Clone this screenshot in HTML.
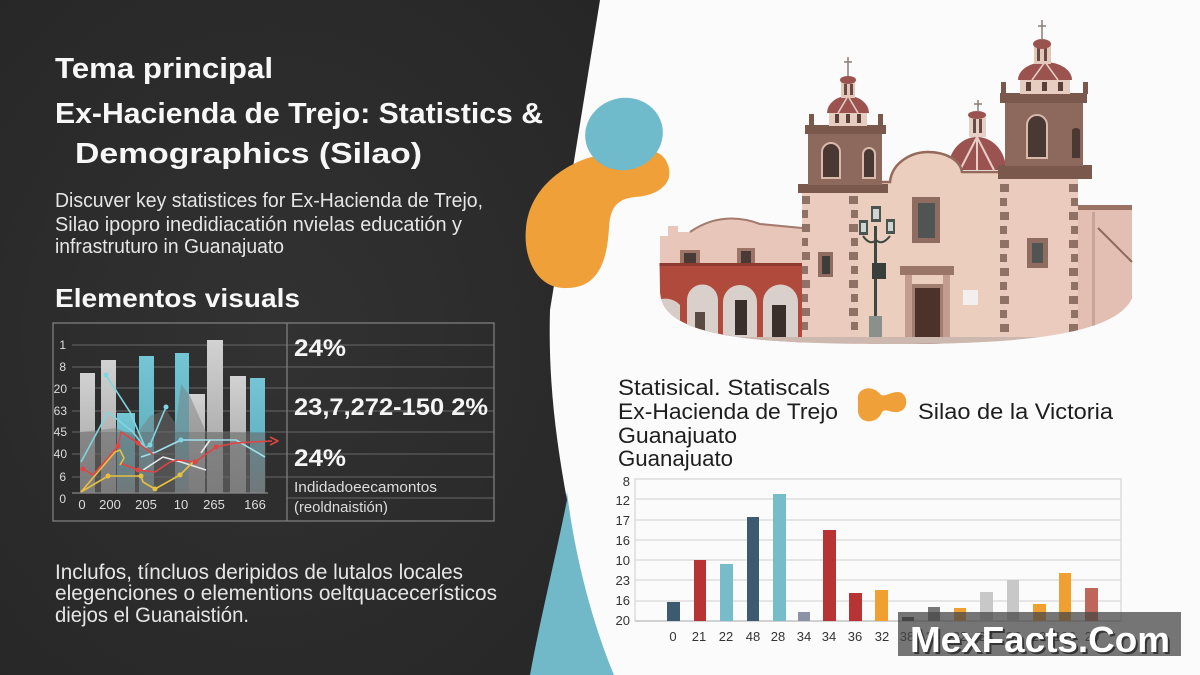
<!DOCTYPE html>
<html><head><meta charset="utf-8"><style>
html,body{margin:0;padding:0;width:1200px;height:675px;overflow:hidden;background:#fbfbfb;}
svg{display:block}
text{font-family:"Liberation Sans",Arial,sans-serif;}
</style></head><body>
<svg width="1200" height="675" viewBox="0 0 1200 675" xmlns="http://www.w3.org/2000/svg">
<defs>
 <radialGradient id="dk" cx="0.45" cy="0.5" r="0.75">
   <stop offset="0" stop-color="#323232"/><stop offset="1" stop-color="#262626"/>
 </radialGradient>
 <linearGradient id="gb" x1="0" y1="0" x2="0" y2="1"><stop offset="0" stop-color="#d2d2d2"/><stop offset="1" stop-color="#9c9c9c"/></linearGradient>
 <linearGradient id="tb" x1="0" y1="0" x2="0" y2="1"><stop offset="0" stop-color="#74c6d5"/><stop offset="0.6" stop-color="#62b2c0"/><stop offset="1" stop-color="#7f9094"/></linearGradient>
 <clipPath id="ch"><path d="M655,0 H1135 V285 C1135,332 1040,344 895,344 C745,344 660,336 660,290 Z"/></clipPath>
</defs>
<rect width="1200" height="675" fill="#fbfbfb"/>

<!-- teal bottom shape -->
<path d="M567,492 C575,560 595,630 614,675 L528,675 C540,620 555,560 567,492 Z" fill="#71b9c9"/>
<!-- dark panel -->
<path d="M0,0 H600 L550,310 C548,380 556,440 567,500 C555,560 540,620 530,675 H0 Z" fill="url(#dk)"/>

<!-- blobs -->
<path d="M588,158 C620,150 660,140 668,165 C675,185 655,196 635,197 C615,199 610,210 609,228 C607,262 598,287 568,288 C535,290 523,255 526,228 C529,192 558,168 588,158 Z" fill="#f0a038"/>
<ellipse cx="624" cy="134" rx="39" ry="36" fill="#6fbacb" transform="rotate(-15 624 134)"/>

<!-- church -->
<g clip-path="url(#ch)">
 <rect x="1077" y="207" width="55" height="140" fill="#e2bfb2"/>
 <rect x="1077" y="205" width="55" height="5" fill="#9a7264"/>
 <path d="M1098,228 L1132,262" stroke="#8e6a5e" stroke-width="2"/>
 <rect x="1092" y="212" width="3" height="120" fill="#c9a496"/>
 <!-- left building -->
 <path d="M660,236 L668,236 L668,226 L678,226 L678,232 L690,232 Q722,210 760,224 L802,228 V265 H660 Z" fill="#e8c6b9"/>
 <path d="M690,232 Q722,210 760,224 L802,228" fill="none" stroke="#a47a6c" stroke-width="2"/>
 <rect x="680" y="250" width="20" height="14" fill="#9c7568"/><rect x="684" y="253" width="12" height="11" fill="#4a3a35"/>
 <rect x="737" y="248" width="18" height="15" fill="#9c7568"/><rect x="741" y="251" width="10" height="12" fill="#4a3a35"/>
 <rect x="658" y="263" width="144" height="85" fill="#b04a3c"/>
 <rect x="658" y="263" width="144" height="3" fill="#8e3a30"/>
 <path d="M658,345 V300 A20,20 0 0 1 680,305 V345 Z" fill="#d6cdc8"/>
 <path d="M687,345 V300 A15.5,15.5 0 0 1 718,300 V345 Z" fill="#d9d0cb"/>
 <path d="M723,345 V302 A17,17 0 0 1 757,302 V345 Z" fill="#d9d0cb"/>
 <path d="M763,345 V302 A17.5,17.5 0 0 1 798,302 V345 Z" fill="#d9d0cb"/>
 <rect x="695" y="312" width="10" height="26" fill="#5a4a44"/>
 <rect x="735" y="300" width="12" height="35" fill="#3b2f2c"/>
 <rect x="772" y="305" width="14" height="33" fill="#3b2f2c"/>
 <!-- right dome -->
 <path d="M948,170 A29,33 0 0 1 1006,170 Z" fill="#9a5350"/>
 <path d="M977,137 L960,170 M977,137 L977,170 M977,137 L994,170" stroke="#e8cfc5" stroke-width="2"/>
 <rect x="969" y="115" width="17" height="22" fill="#e6cfc4"/>
 <rect x="973" y="119" width="3" height="14" fill="#6a4a44"/><rect x="979" y="119" width="3" height="14" fill="#6a4a44"/>
 <ellipse cx="977" cy="115" rx="9" ry="4" fill="#9a5350"/>
 <path d="M978,100 V112 M974,104 H982" stroke="#8a7c78" stroke-width="1.5"/>
 <!-- central facade -->
 <path d="M858,182 L890,182 C892,162 912,152 928,152 C946,152 960,160 962,172 L1000,172 V348 H858 Z" fill="#eccebf"/>
 <path d="M858,182 L890,182 C892,162 912,152 928,152 C946,152 960,160 962,172 L1000,172" fill="none" stroke="#946a5b" stroke-width="2.5"/>
 <!-- left tower -->
 <rect x="802" y="190" width="56" height="158" fill="#ebcbbd"/>
 <g fill="#8f7165">
  <rect x="802" y="196" width="8" height="8"/><rect x="802" y="210" width="6" height="8"/><rect x="802" y="224" width="8" height="8"/><rect x="802" y="238" width="6" height="8"/><rect x="802" y="252" width="8" height="8"/><rect x="802" y="266" width="6" height="8"/><rect x="802" y="280" width="8" height="8"/><rect x="802" y="294" width="6" height="8"/><rect x="802" y="308" width="8" height="8"/><rect x="802" y="322" width="6" height="8"/>
  <rect x="849" y="196" width="9" height="8"/><rect x="851" y="210" width="7" height="8"/><rect x="849" y="224" width="9" height="8"/><rect x="851" y="238" width="7" height="8"/><rect x="849" y="252" width="9" height="8"/><rect x="851" y="266" width="7" height="8"/><rect x="849" y="280" width="9" height="8"/><rect x="851" y="294" width="7" height="8"/><rect x="849" y="308" width="9" height="8"/><rect x="851" y="322" width="7" height="8"/>
 </g>
 <rect x="798" y="184" width="90" height="9" fill="#7b584c"/>
 <rect x="808" y="133" width="74" height="52" fill="#8c695c"/>
 <path d="M822,178 V152 A9,9 0 0 1 840,152 V178 Z" fill="#4a3832" stroke="#d8b9aa" stroke-width="2"/>
 <path d="M863,178 V154 A6,6 0 0 1 875,154 V178 Z" fill="#4a3832" stroke="#d8b9aa" stroke-width="2"/>
 <rect x="805" y="125" width="81" height="9" fill="#7b584c"/>
 <rect x="829" y="110" width="38" height="16" fill="#e7cdbf"/>
 <rect x="835" y="114" width="4" height="9" fill="#5a4038"/><rect x="846" y="114" width="4" height="9" fill="#5a4038"/><rect x="857" y="114" width="4" height="9" fill="#5a4038"/>
 <rect x="809" y="114" width="5" height="12" fill="#7b584c"/><rect x="878" y="114" width="5" height="12" fill="#7b584c"/>
 <path d="M827,113 A21,17 0 0 1 869,113 Z" fill="#9b5350"/>
 <path d="M848,96 L838,113 M848,96 L858,113" stroke="#e8cfc5" stroke-width="1.5"/>
 <rect x="841" y="80" width="14" height="18" fill="#e3c8ba"/>
 <rect x="844" y="84" width="3" height="11" fill="#6a4a44"/><rect x="850" y="84" width="3" height="11" fill="#6a4a44"/>
 <ellipse cx="848" cy="80" rx="8" ry="4" fill="#9b5350"/>
 <path d="M848,57 V76 M844,62 H852" stroke="#8a7c78" stroke-width="1.5"/>
 <!-- right tower -->
 <rect x="1000" y="175" width="78" height="173" fill="#ebcbbd"/>
 <g fill="#8f7165">
  <rect x="1000" y="184" width="9" height="8"/><rect x="1000" y="198" width="7" height="8"/><rect x="1000" y="212" width="9" height="8"/><rect x="1000" y="226" width="7" height="8"/><rect x="1000" y="240" width="9" height="8"/><rect x="1000" y="254" width="7" height="8"/><rect x="1000" y="268" width="9" height="8"/><rect x="1000" y="282" width="7" height="8"/><rect x="1000" y="296" width="9" height="8"/><rect x="1000" y="310" width="7" height="8"/><rect x="1000" y="324" width="9" height="8"/>
  <rect x="1069" y="184" width="9" height="8"/><rect x="1071" y="198" width="7" height="8"/><rect x="1069" y="212" width="9" height="8"/><rect x="1071" y="226" width="7" height="8"/><rect x="1069" y="240" width="9" height="8"/><rect x="1071" y="254" width="7" height="8"/><rect x="1069" y="268" width="9" height="8"/><rect x="1071" y="282" width="7" height="8"/><rect x="1069" y="296" width="9" height="8"/><rect x="1071" y="310" width="7" height="8"/><rect x="1069" y="324" width="9" height="8"/>
 </g>
 <rect x="998" y="165" width="94" height="14" fill="#7b584c"/>
 <rect x="1005" y="100" width="78" height="66" fill="#8c695c"/>
 <path d="M1027,158 V125 A10,10 0 0 1 1047,125 V158 Z" fill="#4a3832" stroke="#d8b9aa" stroke-width="2"/>
 <path d="M1072,158 V130 A5,5 0 0 1 1080,130 V158 Z" fill="#4a3832"/>
 <rect x="1000" y="93" width="87" height="10" fill="#7b584c"/>
 <rect x="1020" y="78" width="50" height="16" fill="#e7cdbf"/>
 <rect x="1026" y="82" width="5" height="9" fill="#5a4038"/><rect x="1042" y="82" width="5" height="9" fill="#5a4038"/><rect x="1058" y="82" width="5" height="9" fill="#5a4038"/>
 <rect x="1001" y="82" width="5" height="12" fill="#7b584c"/><rect x="1083" y="82" width="5" height="12" fill="#7b584c"/>
 <path d="M1018,80 A27,18 0 0 1 1072,80 Z" fill="#9b5350"/>
 <path d="M1045,62 L1032,80 M1045,62 L1058,80" stroke="#e8cfc5" stroke-width="1.5"/>
 <rect x="1034" y="44" width="17" height="20" fill="#e3c8ba"/>
 <rect x="1037" y="48" width="3" height="13" fill="#6a4a44"/><rect x="1044" y="48" width="3" height="13" fill="#6a4a44"/>
 <ellipse cx="1042" cy="44" rx="9" ry="5" fill="#9b5350"/>
 <path d="M1042,20 V40 M1038,26 H1046" stroke="#8a7c78" stroke-width="1.5"/>
 <!-- windows, door -->
 <rect x="912" y="197" width="28" height="46" fill="#8f6c60"/><rect x="918" y="203" width="17" height="35" fill="#505452"/>
 <rect x="900" y="266" width="54" height="9" fill="#9a7668"/>
 <rect x="905" y="275" width="7" height="70" fill="#c29c8e"/><rect x="943" y="275" width="7" height="70" fill="#c29c8e"/>
 <rect x="912" y="284" width="31" height="61" fill="#a07e70"/>
 <rect x="915" y="288" width="25" height="57" fill="#4d3229"/>
 <rect x="818" y="252" width="15" height="25" fill="#8f6c60"/><rect x="822" y="256" width="8" height="18" fill="#3f3c3a"/>
 <rect x="1027" y="238" width="21" height="30" fill="#8f6c60"/><rect x="1032" y="243" width="11" height="20" fill="#505452"/>
 <rect x="963" y="290" width="15" height="15" fill="#f3efec"/>
 <!-- lamp -->
 <rect x="874" y="226" width="3" height="100" fill="#3d4843"/>
 <rect x="869" y="316" width="13" height="30" fill="#8a918c"/>
 <path d="M863,236 Q870,246 876,240 Q882,246 890,236" fill="none" stroke="#3d4843" stroke-width="2"/>
 <rect x="859" y="220" width="9" height="15" fill="#4a5550"/><rect x="861" y="223" width="5" height="9" fill="#cfd5d2"/>
 <rect x="871" y="206" width="10" height="16" fill="#4a5550"/><rect x="873" y="209" width="6" height="10" fill="#cfd5d2"/>
 <rect x="886" y="219" width="9" height="15" fill="#4a5550"/><rect x="888" y="222" width="5" height="9" fill="#cfd5d2"/>
 <rect x="872" y="263" width="14" height="16" fill="#3a3f3c"/>
 <rect x="655" y="337" width="480" height="12" fill="#cdb8b0"/>
</g>

<!-- Left texts -->
<g fill="#f7f7f7" font-weight="bold">
 <text x="55" y="78" font-size="29" textLength="218" lengthAdjust="spacingAndGlyphs">Tema principal</text>
 <text x="55" y="123" font-size="29" textLength="488" lengthAdjust="spacingAndGlyphs">Ex-Hacienda de Trejo: Statistics &amp;</text>
 <text x="75" y="163" font-size="29" textLength="347" lengthAdjust="spacingAndGlyphs">Demographics (Silao)</text>
 <text x="55" y="307" font-size="26" textLength="245" lengthAdjust="spacingAndGlyphs">Elementos visuals</text>
</g>
<g fill="#e6e6e6" font-size="20">
 <text x="55" y="207" textLength="428" lengthAdjust="spacingAndGlyphs">Discuver key statistices for Ex-Hacienda de Trejo,</text>
 <text x="55" y="231" textLength="407" lengthAdjust="spacingAndGlyphs">Silao ipopro inedidiacatión nvielas educatión y</text>
 <text x="55" y="253" textLength="229" lengthAdjust="spacingAndGlyphs">infrastruturo in Guanajuato</text>
</g>
<g fill="#e6e6e6" font-size="21">
 <text x="55" y="579" textLength="408" lengthAdjust="spacingAndGlyphs">Inclufos, tíncluos deripidos de lutalos locales</text>
 <text x="55" y="600" textLength="442" lengthAdjust="spacingAndGlyphs">elegenciones o elementions oeltquacecerísticos</text>
 <text x="55" y="622" textLength="194" lengthAdjust="spacingAndGlyphs">diejos el Guanaistión.</text>
</g>

<!-- Left table/chart -->
<g stroke="#5c5c5c" stroke-width="1.2">
 <line x1="72" y1="345" x2="494" y2="345"/>
 <line x1="72" y1="367" x2="494" y2="367"/>
 <line x1="72" y1="388" x2="494" y2="388"/>
 <line x1="72" y1="411" x2="494" y2="411"/>
 <line x1="72" y1="432" x2="494" y2="432"/>
 <line x1="72" y1="454" x2="494" y2="454"/>
 <line x1="72" y1="477" x2="494" y2="477"/>
 <line x1="287" y1="498" x2="494" y2="498"/>
</g>
<rect x="80" y="373" width="15" height="120" fill="url(#gb)"/>
<rect x="101" y="360" width="15" height="133" fill="url(#gb)"/>
<rect x="117" y="413" width="18" height="80" fill="url(#tb)"/>
<rect x="139" y="356" width="15" height="137" fill="url(#tb)"/>
<rect x="175" y="353" width="14" height="140" fill="url(#tb)"/>
<rect x="189" y="394" width="16" height="99" fill="url(#gb)"/>
<rect x="207" y="340" width="16" height="153" fill="url(#gb)"/>
<rect x="230" y="376" width="16" height="117" fill="url(#gb)"/>
<rect x="250" y="378" width="15" height="115" fill="url(#tb)"/>
<polygon points="80,432 116,428 135,436 150,416 166,410 176,424 181,384 190,396 206,432 265,433 265,493 80,493" fill="rgba(120,120,120,0.45)"/>
<rect x="80" y="432" width="186" height="61" fill="rgba(90,90,90,0.3)"/>
<line x1="72" y1="493" x2="268" y2="493" stroke="#888" stroke-width="1.2"/>
<g fill="none" stroke-width="1.6" stroke-linejoin="round">
 <polyline points="81,462 108,412 133,432 145,448 150,445 166,407" stroke="#7fd6e2"/>
 <polyline points="106,375 130,412 145,447" stroke="#7fd6e2"/>
 <polyline points="141,457 156,452 181,440 206,440 236,440 265,457" stroke="#9fe0ea"/>
 <polyline points="143,470 163,457 181,462 206,470" stroke="#e8e8e8"/>
 <polyline points="201,453 210,440" stroke="#e8e8e8"/>
 <polyline points="83,469 93,475 118,446 121,432 138,443 150,452 153,455" stroke="#e04545"/>
 <polyline points="120,463 138,470 155,472 170,462 178,460 195,462 216,447 235,443 272,441" stroke="#e04545"/>
 <path d="M270,437 L278,441 L270,445" stroke="#e04545"/>
 <polyline points="81,492 115,452 120,450 124,458 120,465" stroke="#e8c040"/>
 <polyline points="81,492 108,476 141,476 143,482 155,489 180,475 193,462" stroke="#e8c040"/>
</g>
<g fill="#e04545"><circle cx="83" cy="469" r="2.5"/><circle cx="118" cy="446" r="2.5"/><circle cx="138" cy="443" r="2.5"/><circle cx="138" cy="470" r="2.5"/><circle cx="195" cy="462" r="2.5"/><circle cx="216" cy="447" r="2.5"/></g>
<g fill="#e8c040"><circle cx="108" cy="476" r="2.5"/><circle cx="141" cy="476" r="2.5"/><circle cx="155" cy="489" r="2.5"/><circle cx="180" cy="475" r="2.5"/></g>
<g fill="#7fd6e2"><circle cx="106" cy="375" r="2.5"/><circle cx="166" cy="407" r="2.5"/><circle cx="181" cy="440" r="2.5"/><circle cx="150" cy="445" r="2.5"/></g>
<rect x="53" y="323" width="441" height="198" fill="none" stroke="#7e7e7e" stroke-width="1.3"/>
<line x1="287" y1="323" x2="287" y2="521" stroke="#7e7e7e" stroke-width="1.3"/>
<g fill="#dddddd" font-size="12" text-anchor="end">
 <text x="66" y="349">1</text><text x="66" y="371">8</text><text x="67" y="393">20</text><text x="67" y="415">63</text>
 <text x="67" y="436">45</text><text x="67" y="458">40</text><text x="66" y="481">6</text><text x="66" y="503">0</text>
</g>
<g fill="#dddddd" font-size="13" text-anchor="middle">
 <text x="82" y="509">0</text><text x="110" y="509">200</text><text x="146" y="509">205</text><text x="181" y="509">10</text><text x="214" y="509">265</text><text x="255" y="509">166</text>
</g>
<g fill="#f5f5f5" font-weight="bold" font-size="24">
 <text x="294" y="356" textLength="52" lengthAdjust="spacingAndGlyphs">24%</text>
 <text x="294" y="415" textLength="194" lengthAdjust="spacingAndGlyphs">23,7,272-150 2%</text>
 <text x="294" y="466" textLength="52" lengthAdjust="spacingAndGlyphs">24%</text>
</g>
<g fill="#dddddd" font-size="15">
 <text x="294" y="492" textLength="143" lengthAdjust="spacingAndGlyphs">Indidadoeecamontos</text>
 <text x="294" y="512" textLength="94" lengthAdjust="spacingAndGlyphs">(reoldnaistión)</text>
</g>

<!-- right texts -->
<g fill="#1e1e1e" font-size="22">
 <text x="618" y="395" textLength="212" lengthAdjust="spacingAndGlyphs">Statisical. Statiscals</text>
 <text x="618" y="419" textLength="220" lengthAdjust="spacingAndGlyphs">Ex-Hacienda de Trejo</text>
 <text x="618" y="443" textLength="119" lengthAdjust="spacingAndGlyphs">Guanajuato</text>
 <text x="618" y="466" textLength="115" lengthAdjust="spacingAndGlyphs">Guanajuato</text>
 <text x="918" y="419" textLength="195" lengthAdjust="spacingAndGlyphs">Silao de la Victoria</text>
</g>
<path d="M858,400 C856,388 872,384 880,394 C884,398 890,392 898,392 C908,392 910,410 898,412 C890,413 886,408 882,412 C878,424 860,425 858,412 Z" fill="#f0a038"/>

<!-- right chart -->
<g stroke="#dedede" stroke-width="1.5">
 <line x1="635" y1="499" x2="1121" y2="499"/><line x1="635" y1="520" x2="1121" y2="520"/>
 <line x1="635" y1="540" x2="1121" y2="540"/><line x1="635" y1="560" x2="1121" y2="560"/>
 <line x1="635" y1="580" x2="1121" y2="580"/><line x1="635" y1="601" x2="1121" y2="601"/>
</g>
<rect x="635" y="479" width="486" height="142" fill="none" stroke="#dcdcdc" stroke-width="1.5"/>
<line x1="635" y1="621" x2="1121" y2="621" stroke="#c8c8c8" stroke-width="1.5"/>
<g>
 <rect x="667" y="602" width="13" height="19" fill="#3d5b70"/>
 <rect x="694" y="560" width="12" height="61" fill="#b83434"/>
 <rect x="720" y="564" width="13" height="57" fill="#76bdc9"/>
 <rect x="747" y="517" width="12" height="104" fill="#3d5b70"/>
 <rect x="773" y="494" width="13" height="127" fill="#76bdc9"/>
 <rect x="798" y="612" width="12" height="9" fill="#8b93a4"/>
 <rect x="823" y="530" width="13" height="91" fill="#b83434"/>
 <rect x="849" y="593" width="13" height="28" fill="#b83434"/>
 <rect x="875" y="590" width="13" height="31" fill="#f0a030"/>
 <rect x="902" y="617" width="12" height="4" fill="#444"/>
 <rect x="928" y="607" width="12" height="14" fill="#777"/>
 <rect x="954" y="608" width="12" height="13" fill="#f0a030"/>
 <rect x="980" y="592" width="13" height="29" fill="#c8c8c8"/>
 <rect x="1007" y="580" width="12" height="41" fill="#c8c8c8"/>
 <rect x="1033" y="604" width="13" height="17" fill="#f0a030"/>
 <rect x="1059" y="573" width="12" height="48" fill="#f0a030"/>
 <rect x="1085" y="588" width="13" height="33" fill="#c0655a"/>
</g>
<g fill="#333" font-size="13" text-anchor="end">
 <text x="630" y="486">8</text><text x="630" y="505">12</text><text x="630" y="525">17</text><text x="630" y="545">16</text>
 <text x="630" y="565">10</text><text x="630" y="585">23</text><text x="630" y="605">16</text><text x="630" y="625">20</text>
</g>
<g fill="#333" font-size="13" text-anchor="middle">
 <text x="673" y="641">0</text><text x="699" y="641">21</text><text x="726" y="641">22</text><text x="753" y="641">48</text>
 <text x="778" y="641">28</text><text x="804" y="641">34</text><text x="829" y="641">34</text><text x="855" y="641">36</text>
 <text x="882" y="641">32</text><text x="907" y="641">38</text><text x="933" y="641">34</text><text x="960" y="641">32</text>
 <text x="986" y="641">28</text><text x="1013" y="641">27</text><text x="1039" y="641">28</text><text x="1065" y="641">126</text><text x="1092" y="641">20</text>
</g>

<!-- watermark -->
<rect x="898" y="612" width="283" height="44" fill="rgba(70,70,70,0.74)"/>
<text x="912" y="654" font-size="36" font-weight="bold" fill="#1a1a1a" opacity="0.7" textLength="260" lengthAdjust="spacingAndGlyphs">MexFacts.Com</text>
<text x="910" y="652" font-size="36" font-weight="bold" fill="#ffffff" textLength="260" lengthAdjust="spacingAndGlyphs">MexFacts.Com</text>
</svg>
</body></html>
